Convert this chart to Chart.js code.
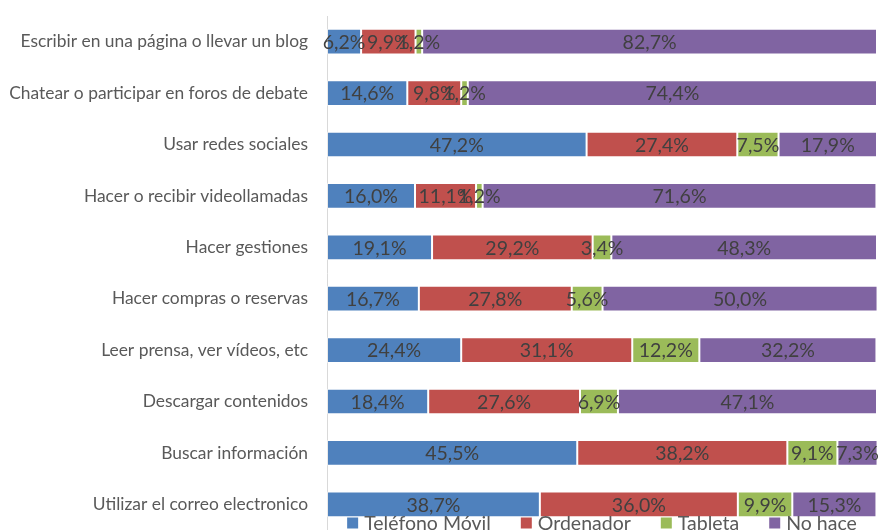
<!DOCTYPE html>
<html>
<head>
<meta charset="utf-8">
<script src="https://cdn.jsdelivr.net/npm/chart.js@4.4.1/dist/chart.umd.min.js"></script>
<style>
  html, body { margin: 0; padding: 0; background: #fff; overflow: hidden; }
  #wrap { width: 878px; height: 530px; }
</style>
</head>
<body>
<div id="wrap"><canvas id="usos" width="878" height="530"></canvas></div>
<script>
const categorias = [
  'Escribir en una página o llevar un blog',
  'Chatear o participar en foros de debate',
  'Usar redes sociales',
  'Hacer o recibir videollamadas',
  'Hacer gestiones',
  'Hacer compras o reservas',
  'Leer prensa, ver vídeos, etc',
  'Descargar contenidos',
  'Buscar información',
  'Utilizar el correo electronico'
];
const telefonoMovil = [6.2, 14.6, 47.2, 16.0, 19.1, 16.7, 24.4, 18.4, 45.5, 38.7];
const ordenador     = [9.9, 9.8, 27.4, 11.1, 29.2, 27.8, 31.1, 27.6, 38.2, 36.0];
const tableta       = [1.2, 1.2, 7.5, 1.2, 3.4, 5.6, 12.2, 6.9, 9.1, 9.9];
const noHace        = [82.7, 74.4, 17.9, 71.6, 48.3, 50.0, 32.2, 47.1, 7.3, 15.3];

const FONT = 'Lato, "Open Sans", sans-serif';

// etiquetas con el porcentaje centradas en cada tramo
const etiquetas = {
  id: 'etiquetas',
  afterDatasetsDraw(chart) {
    const ctx = chart.ctx;
    ctx.save();
    ctx.font = '19.5px ' + FONT;
    ctx.fillStyle = '#404040';
    ctx.textAlign = 'center';
    ctx.textBaseline = 'middle';
    chart.data.datasets.forEach((ds, i) => {
      chart.getDatasetMeta(i).data.forEach((bar, j) => {
        const cx = (bar.x + bar.base) / 2;
        const txt = ds.data[j].toFixed(1).replace('.', ',') + '%';
        ctx.fillText(txt, cx, bar.y + 1);
      });
    });
    ctx.restore();
  }
};

// leyenda dibujada a mano sobre la parte baja del grafico
const leyenda = {
  id: 'leyenda',
  afterDraw(chart) {
    const ctx = chart.ctx;
    const area = chart.chartArea;
    const box = 11, gapTxt = 6, gapItem = 30;
    ctx.save();
    ctx.font = '19.5px ' + FONT;
    ctx.textBaseline = 'middle';
    const items = chart.data.datasets.map(ds => ({
      label: ds.label, color: ds.backgroundColor, w: ctx.measureText(ds.label).width
    }));
    let total = items.reduce((s, it) => s + box + gapTxt + it.w, 0) + gapItem * (items.length - 1);
    let x = (area.left + area.right) / 2 - total / 2;
    const y = 523;
    items.forEach(it => {
      ctx.fillStyle = it.color;
      ctx.fillRect(x, y - box / 2, box, box);
      ctx.fillStyle = '#595959';
      ctx.fillText(it.label, x + box + gapTxt, y + 1);
      x += box + gapTxt + it.w + gapItem;
    });
    ctx.restore();
  }
};

const serie = (label, data, color) => ({
  label: label,
  data: data,
  backgroundColor: color,
  borderColor: 'rgba(255,255,255,0.45)',
  borderWidth: 1,
  borderSkipped: false,
  barPercentage: 0.5,
  categoryPercentage: 1
});

new Chart(document.getElementById('usos'), {
  type: 'bar',
  data: {
    labels: categorias,
    datasets: [
      serie('Teléfono Móvil', telefonoMovil, '#4f81bd'),
      serie('Ordenador', ordenador, '#c0504d'),
      serie('Tableta', tableta, '#9bbb59'),
      serie('No hace', noHace, '#8064a2')
    ]
  },
  options: {
    indexAxis: 'y',
    responsive: false,
    animation: false,
    layout: { padding: { top: 16, right: 1, bottom: 0, left: 0 } },
    plugins: {
      legend: { display: false },
      tooltip: { enabled: false }
    },
    scales: {
      x: { stacked: true, min: 0, max: 100, display: false },
      y: {
        stacked: true,
        grid: { display: false, drawTicks: false },
        border: { display: true, color: '#d9d9d9', width: 1 },
        ticks: { color: '#595959', font: { family: FONT, size: 17.4 }, padding: 19 },
        afterFit(scale) {
          scale.width = 327;
          scale.paddingTop = 0;
          scale.paddingBottom = 0;
        }
      }
    }
  },
  plugins: [etiquetas, leyenda]
});
</script>
</body>
</html>
